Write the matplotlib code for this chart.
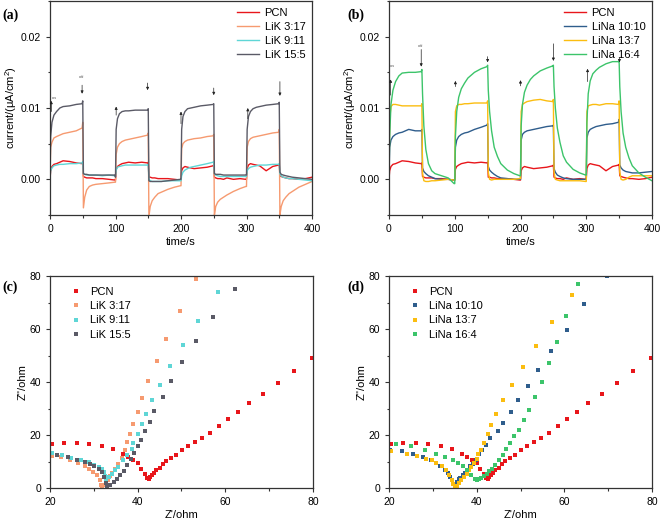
import matplotlib
matplotlib.use("Agg")
import matplotlib.pyplot as plt
from matplotlib.ticker import MultipleLocator

plt.rcParams['font.family'] = ['Liberation Sans', 'DejaVu Sans']
plt.rcParams['mathtext.fontset'] = 'custom'
plt.rcParams['mathtext.rm'] = 'Liberation Sans'

# ---------------- photocurrent data (time in s, current) ----------------
time_s = [0, 1, 3, 6, 10, 15, 20, 30, 40, 49, 50, 51, 53, 56, 60, 65, 70, 80, 90, 99,
          100, 101, 103, 106, 110, 115, 120, 130, 140, 149, 150, 151, 153, 156, 160, 165, 170, 180, 190, 199,
          200, 201, 203, 206, 210, 215, 220, 230, 240, 249, 250, 251, 253, 256, 260, 265, 270, 280, 290, 299,
          300, 301, 303, 306, 310, 315, 320, 330, 340, 349, 350, 351, 353, 356, 360, 365, 370, 380, 390, 400]

pcn_i = [0.0000, 0.0012, 0.0018, 0.0021, 0.0022, 0.0024, 0.0026, 0.0025, 0.0023, 0.0022, 0.0023,
         0.0004, 0.0003, 0.0002, 0.0002, 0.0002, 0.0001, 0.0001, 0.0000, -0.0001,
         -0.0001, 0.0014, 0.0018, 0.0020, 0.0022, 0.0023, 0.0024, 0.0023, 0.0024, 0.0023, 0.0024,
         0.0003, 0.0003, 0.0002, 0.0002, 0.0001, 0.0001, 0.0001, 0.0000, -0.0001,
         -0.0001, 0.0012, 0.0016, 0.0018, 0.0017, 0.0016, 0.0015, 0.0016, 0.0017, 0.0019, 0.0020,
         0.0003, 0.0002, 0.0001, 0.0001, 0.0000, 0.0002, 0.0000, 0.0001, 0.0000,
         0.0000, 0.0015, 0.0020, 0.0022, 0.0021, 0.0020, 0.0019, 0.0012, 0.0018, 0.0020, 0.0021,
         0.0005, 0.0004, 0.0003, 0.0002, 0.0001, 0.0001, 0.0000, 0.0001, 0.0003]

lik_3_17 = [0.0000, 0.0045, 0.0052, 0.0058, 0.0060, 0.0062, 0.0064, 0.0066, 0.0068, 0.0072, 0.0080,
            -0.0040, -0.0025, -0.0015, -0.0010, -0.0008, -0.0007, -0.0006, -0.0005, -0.0004,
            -0.0004, 0.0035, 0.0045, 0.0050, 0.0053, 0.0055, 0.0056, 0.0058, 0.0060, 0.0062, 0.0065,
            -0.0052, -0.0038, -0.0030, -0.0025, -0.0020, -0.0018, -0.0014, -0.0011, -0.0009,
            -0.0009, 0.0043, 0.0050, 0.0053, 0.0055, 0.0056, 0.0057, 0.0058, 0.0060, 0.0061, 0.0063,
            -0.0050, -0.0038, -0.0032, -0.0028, -0.0025, -0.0022, -0.0017, -0.0013, -0.0010,
            -0.0010, 0.0045, 0.0053, 0.0057, 0.0059, 0.0060, 0.0061, 0.0063, 0.0065, 0.0066, 0.0070,
            -0.0050, -0.0038, -0.0030, -0.0025, -0.0020, -0.0017, -0.0011, -0.0007, -0.0003]

lik_9_11 = [0.0003, 0.0012, 0.0016, 0.0019, 0.0020, 0.0021, 0.0021, 0.0022, 0.0022, 0.0023, 0.0025,
            0.0008, 0.0007, 0.0006, 0.0006, 0.0006, 0.0006, 0.0005, 0.0006, 0.0005,
            0.0004, 0.0013, 0.0017, 0.0018, 0.0019, 0.0020, 0.0020, 0.0020, 0.0020, 0.0020, 0.0021,
            0.0000, -0.0002, -0.0003, -0.0003, -0.0003, -0.0003, -0.0002, -0.0002, -0.0002,
            -0.0002, 0.0005, 0.0010, 0.0013, 0.0015, 0.0017, 0.0018, 0.0020, 0.0022, 0.0024, 0.0025,
            0.0008, 0.0006, 0.0005, 0.0004, 0.0004, 0.0004, 0.0004, 0.0004, 0.0004,
            0.0004, 0.0012, 0.0015, 0.0017, 0.0018, 0.0019, 0.0020, 0.0020, 0.0021, 0.0021, 0.0022,
            0.0008, 0.0005, 0.0003, 0.0002, 0.0001, 0.0001, 0.0000, -0.0001, -0.0002]

lik_15_5 = [0.0005, 0.0060, 0.0080, 0.0090, 0.0095, 0.0100, 0.0102, 0.0103, 0.0105, 0.0106, 0.0110,
            0.0008, 0.0007, 0.0007, 0.0006, 0.0006, 0.0006, 0.0006, 0.0006, 0.0006,
            0.0003, 0.0070, 0.0085, 0.0092, 0.0095, 0.0096, 0.0096, 0.0097, 0.0097, 0.0097, 0.0099,
            -0.0002, -0.0003, -0.0003, -0.0003, -0.0003, -0.0003, -0.0002, -0.0001, 0.0000,
            0.0000, 0.0070, 0.0088, 0.0095, 0.0099, 0.0100, 0.0101, 0.0103, 0.0104, 0.0105, 0.0106,
            0.0008, 0.0007, 0.0007, 0.0007, 0.0006, 0.0006, 0.0006, 0.0006, 0.0006,
            0.0006, 0.0070, 0.0088, 0.0095, 0.0099, 0.0101, 0.0102, 0.0104, 0.0105, 0.0106, 0.0108,
            0.0010, 0.0007, 0.0006, 0.0005, 0.0004, 0.0003, 0.0002, 0.0001, 0.0000]

lina_10_10 = [0.0000, 0.0045, 0.0055, 0.0060, 0.0063, 0.0065, 0.0066, 0.0070, 0.0068, 0.0068, 0.0070,
              0.0016, 0.0011, 0.0008, 0.0005, 0.0003, 0.0001, 0.0000, 0.0000, -0.0001,
              -0.0001, 0.0045, 0.0055, 0.0060, 0.0063, 0.0065, 0.0066, 0.0070, 0.0073, 0.0076, 0.0078,
              0.0018, 0.0013, 0.0010, 0.0007, 0.0004, 0.0002, 0.0001, 0.0000, 0.0000,
              0.0000, 0.0055, 0.0063, 0.0066, 0.0068, 0.0069, 0.0070, 0.0072, 0.0074, 0.0075, 0.0076,
              0.0015, 0.0010, 0.0006, 0.0004, 0.0002, 0.0001, 0.0000, 0.0000, 0.0000,
              0.0000, 0.0058, 0.0066, 0.0070, 0.0072, 0.0074, 0.0075, 0.0077, 0.0078, 0.0080, 0.0084,
              0.0020, 0.0016, 0.0013, 0.0011, 0.0010, 0.0009, 0.0009, 0.0010, 0.0011]

lina_13_7 = [0.0000, 0.0085, 0.0102, 0.0105, 0.0105, 0.0104, 0.0103, 0.0103, 0.0103, 0.0103, 0.0106,
             0.0008, -0.0002, -0.0003, -0.0003, -0.0002, -0.0002, -0.0001, 0.0000, -0.0001,
             -0.0001, 0.0095, 0.0103, 0.0105, 0.0105, 0.0106, 0.0106, 0.0107, 0.0107, 0.0107, 0.0110,
             0.0010, 0.0000, -0.0001, 0.0000, 0.0000, 0.0000, 0.0000, 0.0000, 0.0001,
             0.0001, 0.0095, 0.0105, 0.0107, 0.0109, 0.0110, 0.0111, 0.0112, 0.0110, 0.0109, 0.0112,
             0.0010, 0.0000, -0.0001, -0.0002, -0.0002, -0.0002, -0.0002, -0.0002, -0.0003,
             -0.0003, 0.0095, 0.0103, 0.0104, 0.0105, 0.0105, 0.0104, 0.0106, 0.0106, 0.0105, 0.0110,
             0.0010, 0.0000, -0.0001, 0.0000, 0.0003, 0.0005, 0.0005, 0.0005, 0.0005]

lina_16_4 = [0.0005, 0.0060, 0.0105, 0.0125, 0.0137, 0.0145, 0.0149, 0.0150, 0.0150, 0.0151, 0.0154,
             0.0120, 0.0075, 0.0042, 0.0022, 0.0012, 0.0008, 0.0005, 0.0002, -0.0006,
             -0.0006, 0.0060, 0.0095, 0.0115, 0.0127, 0.0135, 0.0142, 0.0150, 0.0155, 0.0158, 0.0160,
             0.0125, 0.0095, 0.0068, 0.0045, 0.0032, 0.0022, 0.0013, 0.0008, 0.0005,
             0.0005, 0.0075, 0.0105, 0.0122, 0.0132, 0.0140, 0.0145, 0.0152, 0.0156, 0.0159, 0.0160,
             0.0130, 0.0100, 0.0072, 0.0052, 0.0033, 0.0024, 0.0014, 0.0009, 0.0006,
             0.0006, 0.0080, 0.0120, 0.0138, 0.0148, 0.0153, 0.0157, 0.0162, 0.0165, 0.0165, 0.0166,
             0.0130, 0.0095, 0.0065, 0.0045, 0.0030, 0.0019, 0.0009, 0.0003, -0.0002]

# ---------------- EIS data (Z', Z'') ----------------
pcn_zr = [20.4, 23.2, 26.1, 29.0, 31.8, 34.3, 36.6, 37.9, 39.0, 40.0, 40.8, 41.6, 42.1, 42.5, 42.8,
          43.2, 43.8, 44.2, 45.0, 45.7, 46.5, 47.6, 48.8, 50.1, 51.4, 53.0, 54.6, 56.5, 58.6, 60.7,
          63.0, 65.5, 68.7, 72.0, 75.6, 79.8]
pcn_zi = [16.6, 17.0, 17.1, 16.6, 15.9, 14.6, 13.0, 11.7, 10.5, 9.4, 7.2, 5.2, 3.9, 3.5, 4.0,
          4.8, 5.7, 6.7, 7.7, 8.9, 10.1, 11.2, 12.6, 14.4, 16.0, 17.4, 19.0, 20.8, 23.4, 25.9,
          28.8, 32.1, 35.6, 39.7, 44.1, 49.0]

lik_3_17_zr = [20.5, 22.5, 24.6, 26.5, 28.0, 29.0, 29.9, 30.7, 31.3, 31.7, 31.9, 32.2, 32.7, 33.2,
               33.7, 34.2, 34.8, 35.6, 36.4, 37.1, 37.6, 38.2, 38.9, 40.0, 41.0, 42.4, 44.3, 46.5,
               49.7, 53.2]
lik_3_17_zi = [12.2, 11.7, 10.5, 9.6, 8.3, 7.2, 6.0, 4.8, 3.1, 1.0, 0.4, 1.0, 2.0, 3.1,
               4.4, 5.7, 7.3, 9.2, 11.2, 14.2, 17.4, 20.5, 24.3, 28.6, 34.0, 40.2, 47.9, 56.4,
               66.8, 78.7]

lik_9_11_zr = [20.4, 22.7, 24.9, 27.0, 28.8, 30.1, 31.1, 31.8, 32.3, 32.6, 32.8, 33.5, 34.2, 34.8,
               35.6, 36.6, 37.5, 38.6, 39.0, 40.0, 41.0, 42.0, 43.2, 45.0, 47.4, 50.3, 53.7, 58.3]
lik_9_11_zi = [13.1, 12.6, 11.5, 10.5, 9.7, 8.8, 7.9, 7.1, 6.2, 4.5, 2.9, 4.2, 5.4, 6.7,
               8.1, 10.5, 12.6, 14.9, 16.8, 20.5, 24.3, 28.0, 33.1, 39.0, 46.0, 54.0, 63.2, 73.8]

lik_15_5_zr = [21.7, 24.2, 26.2, 28.0, 29.1, 30.1, 31.1, 31.8, 32.4, 32.8, 33.1, 33.7, 34.5, 35.2,
               36.0, 36.8, 37.5, 38.5, 39.2, 40.0, 40.8, 41.6, 42.7, 43.8, 45.7, 47.6, 50.1, 53.4,
               57.2, 62.1]
lik_15_5_zi = [12.6, 11.7, 10.7, 9.8, 9.2, 8.3, 7.3, 6.0, 4.2, 1.9, 0.2, 1.0, 2.3, 3.3,
               4.8, 6.3, 8.6, 10.8, 13.2, 15.7, 18.3, 21.5, 24.9, 29.1, 34.4, 40.2, 47.6, 55.3,
               64.4, 75.1]

lina_10_10_zr = [20.2, 23.0, 25.5, 27.8, 29.5, 30.7, 31.7, 32.7, 33.5, 34.0, 34.3, 34.6, 35.0, 35.4,
                 35.9, 36.3, 36.8, 37.3, 37.9, 38.4, 39.2, 39.8, 40.6, 41.3, 42.2, 43.0, 44.8, 46.1,
                 47.8, 49.5, 51.6, 54.1, 57.0, 60.5, 64.4, 69.7]
lina_10_10_zi = [14.5, 13.9, 13.0, 11.7, 10.5, 9.4, 8.2, 6.9, 5.7, 4.2, 2.9, 1.6, 1.5, 2.4,
                 3.3, 3.9, 4.8, 5.7, 6.9, 8.2, 9.2, 10.7, 12.7, 14.5, 16.4, 18.7, 21.4, 24.7,
                 28.5, 33.1, 38.4, 44.7, 51.8, 59.8, 69.3, 80.0]

lina_13_7_zr = [20.4, 24.1, 26.3, 28.4, 29.7, 30.8, 32.0, 33.0, 33.7, 34.3, 34.6, 35.1, 35.5, 36.0,
                36.5, 37.1, 37.7, 38.3, 38.8, 39.4, 40.0, 40.4, 40.9, 41.6, 42.5, 43.2, 44.5, 46.1,
                48.1, 50.5, 53.5, 57.1, 61.7]
lina_13_7_zi = [14.0, 12.7, 12.1, 11.1, 10.5, 9.4, 8.2, 6.7, 4.8, 2.9, 1.4, 0.4, 0.9, 1.9,
                2.9, 4.2, 5.4, 6.9, 7.9, 9.4, 11.0, 12.7, 14.5, 17.0, 20.5, 23.9, 28.1, 33.1,
                39.0, 45.7, 53.7, 62.7, 72.9]

lina_16_4_zr = [21.7, 25.0, 28.2, 30.7, 32.7, 34.5, 35.8, 36.8, 37.9, 38.8, 39.6, 40.0, 40.6, 41.1,
                41.6, 42.3, 42.9, 43.6, 44.2, 45.1, 45.9, 46.8, 47.6, 48.6, 49.6, 50.8, 52.0, 53.3,
                54.8, 56.4, 58.3, 60.4, 63.2]
lina_16_4_zi = [16.5, 15.9, 14.5, 13.0, 11.7, 10.7, 9.6, 8.2, 6.7, 4.8, 3.3, 2.9, 3.3, 3.9,
                4.4, 5.4, 6.3, 7.3, 8.7, 10.5, 12.6, 14.7, 16.8, 19.6, 22.0, 25.6, 29.6, 34.4,
                39.9, 47.0, 55.2, 65.0, 77.0]

labels_a = ["PCN", "LiK 3:17", "LiK 9:11", "LiK 15:5"]
labels_b = ["PCN", "LiNa 10:10", "LiNa 13:7", "LiNa 16:4"]
colors_a = ["#e8161b", "#f69a70", "#5fd6d6", "#5a5a66"]
colors_b = ["#e8161b", "#2f5d8c", "#fbbd10", "#3cc46a"]

W, H = 661, 521
fig = plt.figure(figsize=(W / 100, H / 100), dpi=100)

def box(l, t, r, b):
    return [l / W, 1 - b / H, (r - l) / W, (b - t) / H]

axa = fig.add_axes(box(50, 1, 312, 215))
axb = fig.add_axes(box(389, 1, 652, 215))
axc = fig.add_axes(box(50, 276, 313, 488))
axd = fig.add_axes(box(389, 276, 652, 488))

def style(ax):
    for s in ax.spines.values():
        s.set_linewidth(0.9)
        s.set_color('#333333')
    ax.tick_params(which='both', direction='out', top=False, right=False,
                   labelsize=7.5, width=0.8, color='#333333')
    ax.tick_params(which='major', length=3)
    ax.tick_params(which='minor', length=1.8)

# (a) and (b): photocurrent
for ax, series, labels, colors in [
        (axa, [pcn_i, lik_3_17, lik_9_11, lik_15_5], labels_a, colors_a),
        (axb, [pcn_i, lina_10_10, lina_13_7, lina_16_4], labels_b, colors_b)]:
    for y, lab, c in zip(series, labels, colors):
        ax.plot(time_s, y, color=c, lw=1.0, label=lab)
    ax.set_xlim(0, 400)
    ax.set_ylim(-0.005, 0.025)
    ax.set_xticks([0, 100, 200, 300, 400])
    ax.set_yticks([0.00, 0.01, 0.02])
    ax.set_yticklabels(["0.00", "0.01", "0.02"])
    ax.xaxis.set_minor_locator(MultipleLocator(50))
    ax.yaxis.set_minor_locator(MultipleLocator(0.005))
    ax.set_xlabel("time/s", fontsize=8, labelpad=2)
    ax.set_ylabel("current/(μA/cm$^2$)", fontsize=8, labelpad=1)
    style(ax)
    ax.legend(loc='upper right', frameon=False, fontsize=8, handlelength=2.0,
              handletextpad=0.5, labelspacing=0.38, borderaxespad=0.2)

def arrow(ax, x, y0, y1):
    ax.annotate('', xy=(x, y1), xytext=(x, y0),
                arrowprops=dict(arrowstyle='-|>', color='#222222', lw=0.5,
                                mutation_scale=4, shrinkA=0, shrinkB=0))

# arrows panel (a)
arrow(axa, 2, 0.0095, 0.0110)
arrow(axa, 49, 0.0132, 0.0120)
arrow(axa, 101, 0.0090, 0.0102)
arrow(axa, 149, 0.0135, 0.0125)
arrow(axa, 200, 0.0078, 0.0095)
arrow(axa, 250, 0.0128, 0.0118)
arrow(axa, 302, 0.0085, 0.0100)
arrow(axa, 351, 0.0137, 0.0117)
axa.text(3, 0.0112, "on", fontsize=3.5, family='Liberation Serif', color='#555555')
axa.text(44, 0.0142, "off", fontsize=3.5, family='Liberation Serif', color='#555555')

# arrows panel (b)
arrow(axb, 2.5, 0.0118, 0.0140)
arrow(axb, 49, 0.0182, 0.0158)
arrow(axb, 101, 0.0130, 0.0138)
arrow(axb, 150, 0.0172, 0.0164)
arrow(axb, 200, 0.0131, 0.0139)
arrow(axb, 250, 0.0190, 0.0166)
arrow(axb, 302, 0.0137, 0.0155)
arrow(axb, 350.5, 0.0170, 0.0164)
axb.text(2, 0.0158, "on", fontsize=3.5, family='Liberation Serif', color='#555555')
axb.text(44, 0.0186, "off", fontsize=3.5, family='Liberation Serif', color='#555555')

# (c) and (d): EIS
for ax, xs, ys, labels, colors in [
        (axc, [pcn_zr, lik_3_17_zr, lik_9_11_zr, lik_15_5_zr],
         [pcn_zi, lik_3_17_zi, lik_9_11_zi, lik_15_5_zi], labels_a, colors_a),
        (axd, [pcn_zr, lina_10_10_zr, lina_13_7_zr, lina_16_4_zr],
         [pcn_zi, lina_10_10_zi, lina_13_7_zi, lina_16_4_zi], labels_b, colors_b)]:
    for x, y, lab, c in zip(xs, ys, labels, colors):
        ax.plot(x, y, ls='none', marker='s', ms=2.8, mew=0, color=c, label=lab)
    ax.set_xlim(20, 80)
    ax.set_ylim(0, 80)
    ax.set_xticks([20, 40, 60, 80])
    ax.set_yticks([0, 20, 40, 60, 80])
    ax.xaxis.set_minor_locator(MultipleLocator(10))
    ax.yaxis.set_minor_locator(MultipleLocator(10))
    ax.set_xlabel("Z'/ohm", fontsize=8, labelpad=2)
    ax.set_ylabel("Z''/ohm", fontsize=8, labelpad=1)
    style(ax)
    ax.legend(loc='upper left', frameon=False, fontsize=8, handlelength=1.0,
              handletextpad=0.7, labelspacing=0.38, borderaxespad=0.3,
              bbox_to_anchor=(0.05, 0.985), markerscale=1.0)

for lab, x, y in [("(a)", 2, 15), ("(b)", 347, 15), ("(c)", 2, 287), ("(d)", 347, 287)]:
    fig.text(x / W, 1 - y / H, lab, fontsize=10, fontweight='bold',
             family='Liberation Serif', va='center', ha='left')

fig.savefig("out.png", dpi=100)
